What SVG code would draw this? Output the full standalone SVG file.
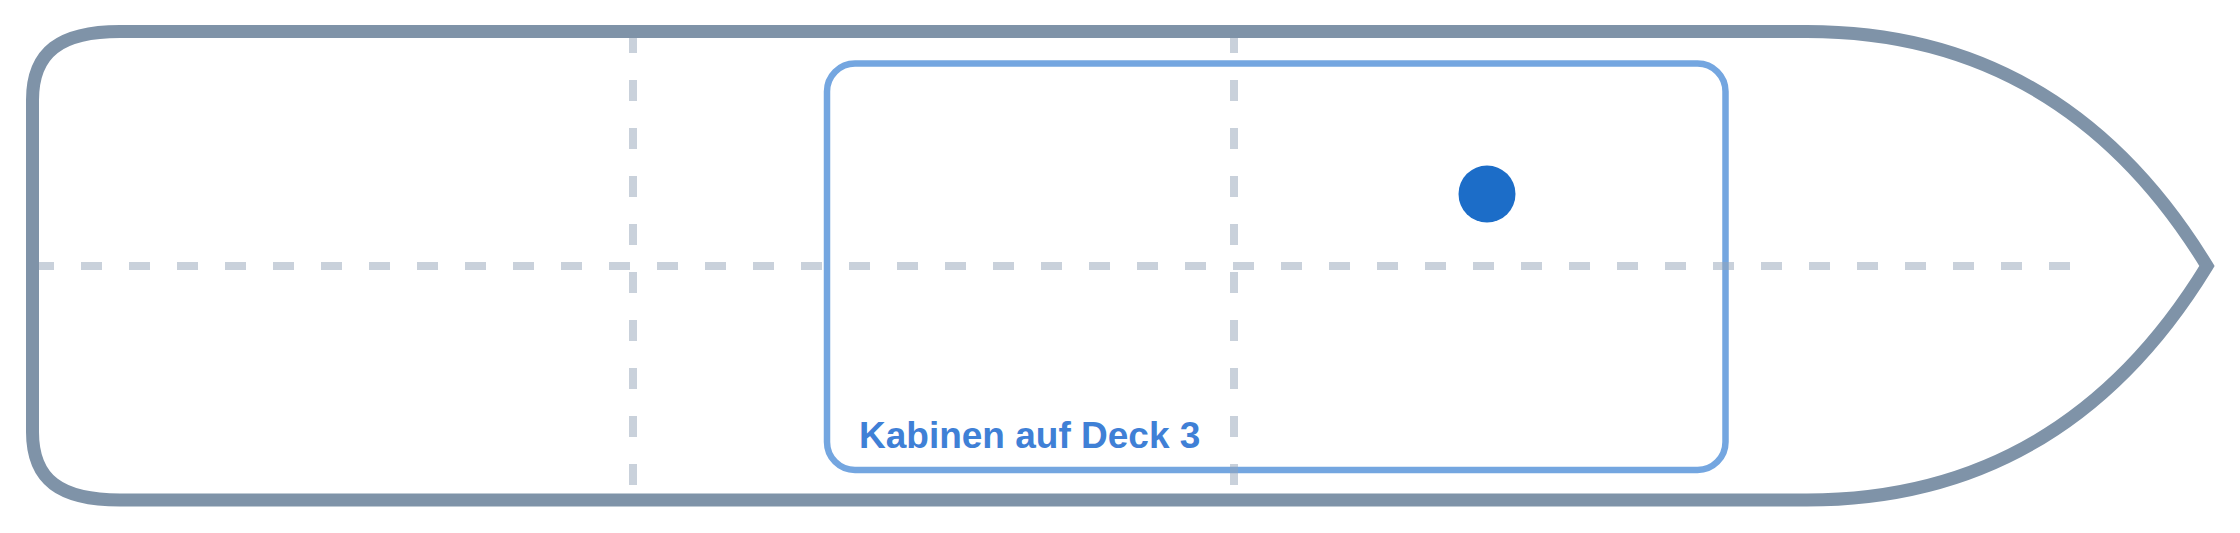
<svg xmlns="http://www.w3.org/2000/svg" width="2240" height="533" viewBox="0 0 2240 533">
  <style>
    .grid { fill: none; stroke: #94a3b8; stroke-opacity: 0.5; stroke-width: 8; stroke-dasharray: 21 27; }
    .hull { fill: none; stroke: #7f93a8; stroke-width: 13; stroke-linejoin: miter; }
    .zone { fill: none; stroke: #74a6e0; stroke-width: 6.5; }
    .label { font-family: "Liberation Sans", Arial, sans-serif; font-weight: bold; font-size: 37px; fill: #3f80d6; }
    .marker { fill: #1c6dc8; }
  </style>
  <rect width="2240" height="533" fill="#ffffff"/>
  <g id="zone-deck3">
    <rect class="zone" x="827" y="63.5" width="898.5" height="406.5" rx="28" ry="28"/>
  </g>
  <g id="connectors">
    <line class="grid" x1="33" y1="266" x2="2078" y2="266"/>
    <line class="grid" x1="633" y1="32" x2="633" y2="500"/>
    <line class="grid" x1="1234" y1="32" x2="1234" y2="500"/>
  </g>
  <g id="hull">
    <path class="hull" d="M 120 31.5 L 1807 31.5 Q 2064 31.5 2207 266 Q 2064 500 1807 500 L 120 500 C 60 500 32.5 480 32.5 432 L 32.5 100 C 32.5 52 60 31.5 120 31.5 Z"/>
  </g>
  <g id="position">
    <circle class="marker" cx="1487" cy="194" r="28.5"/>
  </g>
  <g id="label-deck3">
    <text class="label" x="859" y="448">Kabinen auf Deck 3</text>
  </g>
</svg>
